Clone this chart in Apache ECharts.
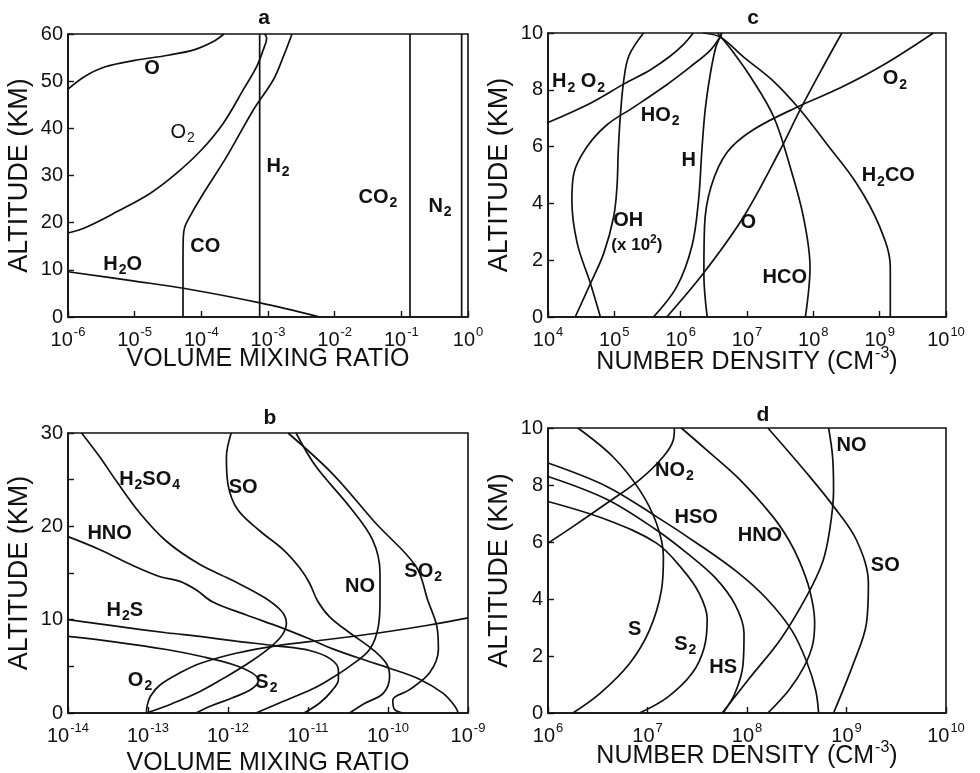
<!DOCTYPE html>
<html>
<head>
<meta charset="utf-8">
<title>Venus lower atmosphere: mixing ratios and number densities</title>
<script src="https://cdn.jsdelivr.net/npm/echarts@6/dist/echarts.min.js"></script>
<style>
  html, body { margin: 0; padding: 0; background: #fff; }
  #chart { width: 980px; height: 773px; }
</style>
</head>
<body>
<div id="chart"></div>
<script>
// Each profile is a list of [log10(value), altitude km] pairs.
// Values are converted back to linear units and plotted on log axes.

// ---------- panel a: volume mixing ratio, 0-60 km ----------
const aDecades = [-6, 0];
const aAltRange = [0, 60];
const a_O   = [[-6, 48.3], [-5.75, 51.0], [-5.45, 53.0], [-5.0, 54.4], [-4.5, 55.5], [-4.1, 56.7], [-3.82, 58.4], [-3.66, 60]];
const a_O2  = [[-6, 17.8], [-5.72, 19.1], [-5.27, 22.3], [-4.77, 26.2], [-4.37, 30.5], [-4.0, 35.4], [-3.67, 41.1], [-3.37, 48.2], [-3.17, 53.1], [-3.07, 56.7], [-3.02, 59.1], [-3.05, 60]];
const a_CO  = [[-4.275, 0], [-4.275, 12], [-4.27, 17], [-4.25, 19], [-4.2, 20.6], [-4.0, 25.5], [-3.62, 34], [-3.22, 43.9], [-2.92, 50.3], [-2.77, 55.2], [-2.64, 60]];
const a_H2O = [[-6, 9.6], [-5, 7.6], [-4.27, 6.1], [-3.12, 3.0], [-2.22, 0]];
const a_H2  = [[-3.125, 0], [-3.125, 60]];
const a_CO2 = [[-0.87, 0], [-0.87, 60]];
const a_N2  = [[-0.095, 0], [-0.095, 60]];
const aLabels = [
  ['O', -4.74, 52.4], ['O_2', -4.28, 39.0, 'thin'], ['H_2', -2.85, 31.8], ['CO_2', -1.35, 25.2],
  ['N_2', -0.42, 23.3], ['CO', -3.94, 14.8], ['H_2O', -5.18, 11.0]
];

// ---------- panel b: volume mixing ratio, 0-30 km ----------
const bDecades = [-14, -9];
const bAltRange = [0, 30];
const b_H2SO4 = [[-13.83, 30], [-13.6, 27.4], [-13.4, 24.9], [-13.1, 21.4], [-12.77, 18.4], [-12.35, 15.9], [-11.94, 14.2], [-11.55, 12.4], [-11.33, 10.9], [-11.27, 9.6], [-11.32, 8.4], [-11.45, 7.2], [-11.7, 5.6], [-12.0, 4.0], [-12.35, 2.3], [-12.7, 1.0], [-13.02, 0]];
const b_HNO   = [[-14, 18.9], [-13.6, 17.5], [-13.19, 15.8], [-12.85, 14.6], [-12.6, 14.1], [-12.4, 13.2], [-12.19, 11.9], [-11.77, 10.5], [-11.35, 9.2], [-11.0, 8.0], [-10.7, 6.9], [-10.3, 5.7], [-9.98, 4.8], [-9.6, 3.6], [-9.31, 2.1], [-9.17, 0.8], [-9.12, 0]];
const b_H2S   = [[-14, 10.0], [-13.4, 9.3], [-12.77, 8.6], [-12.35, 8.2], [-11.9, 7.7], [-11.4, 7.2], [-10.98, 6.7], [-10.72, 5.8], [-10.62, 4.6], [-10.62, 3.6], [-10.7, 2.4], [-10.85, 1.1], [-11.05, 0]];
const b_O2    = [[-13.02, 0], [-13.01, 0.8], [-12.97, 1.8], [-12.85, 3.0], [-12.6, 4.3], [-12.35, 5.3], [-11.9, 6.4], [-11.4, 7.2], [-10.73, 7.9], [-10.1, 8.6], [-9.5, 9.4], [-9.0, 10.2]];
const b_S2    = [[-14, 8.2], [-13.4, 7.6], [-12.77, 6.8], [-12.3, 6.0], [-11.94, 5.2], [-11.7, 4.3], [-11.62, 3.5], [-11.7, 2.6], [-11.95, 1.6], [-12.2, 0.8], [-12.4, 0]];
const b_SO    = [[-11.96, 30], [-12.02, 27.4], [-12.0, 24.5], [-11.88, 21.8], [-11.6, 19.5], [-11.31, 17.5], [-11.1, 15.5], [-10.98, 13.9], [-10.88, 12.0], [-10.73, 10.3], [-10.48, 8.6], [-10.19, 6.8], [-10.02, 5.3], [-9.98, 3.9], [-10.06, 2.1], [-10.3, 1.0], [-10.48, 0]];
const b_NO    = [[-11.15, 30], [-10.9, 26.4], [-10.48, 22.1], [-10.19, 18.5], [-10.1, 15.0], [-10.1, 12.1], [-10.12, 9.3], [-10.23, 6.8], [-10.48, 5.0], [-10.73, 3.6], [-10.94, 2.6], [-11.35, 1.1], [-11.65, 0]];
const b_SO2   = [[-11.25, 30], [-10.69, 25.6], [-10.15, 20.3], [-9.65, 15.7], [-9.5, 12.0], [-9.39, 9.3], [-9.37, 6.8], [-9.48, 4.3], [-9.73, 2.5], [-9.94, 1.4], [-9.92, 0.4], [-9.81, 0]];
const bLabels = [
  ['H_2SO_4', -12.98, 24.9], ['SO', -11.81, 24.1], ['HNO', -13.48, 19.1], ['NO', -10.35, 13.4],
  ['SO_2', -9.56, 15.1], ['H_2S', -13.29, 10.9], ['O_2', -13.1, 3.4], ['S_2', -11.52, 3.2]
];

// ---------- panel c: number density, 0-10 km ----------
const cDecades = [4, 10];
const cAltRange = [0, 10];
const c_H2O2 = [[4, 6.85], [4.64, 7.53], [5.14, 8.2], [5.54, 8.7], [5.84, 9.18], [6.04, 9.59], [6.19, 10]];
const c_HO2  = [[4.79, 0], [4.64, 1.18], [4.44, 2.6], [4.36, 4.1], [4.39, 5.06], [4.59, 6.0], [4.89, 6.77], [5.3, 7.4], [5.79, 8.18], [6.14, 8.8], [6.45, 9.4], [6.6, 9.88], [6.62, 10]];
const c_OH   = [[4.41, 0], [4.64, 1.18], [4.84, 2.24], [4.99, 3.53], [5.04, 4.59], [5.06, 5.88], [5.09, 7.06], [5.14, 8.3], [5.22, 9.2], [5.44, 10]];
const c_H    = [[5.59, 0], [5.94, 1.06], [6.17, 2.5], [6.27, 4.12], [6.32, 5.88], [6.37, 7.3], [6.45, 8.6], [6.53, 9.5], [6.6, 9.9], [6.62, 10]];
const c_O2   = [[6.4, 0], [6.35, 1.5], [6.36, 3.2], [6.46, 4.6], [6.7, 5.8], [7.1, 6.6], [7.8, 7.44], [8.4, 8.06], [9.06, 8.88], [9.81, 10]];
const c_O    = [[5.79, 0], [6.34, 1.53], [6.95, 3.53], [7.5, 5.88], [7.8, 7.29], [8.15, 8.82], [8.43, 10]];
const c_HCO  = [[7.88, 0], [7.95, 1.76], [7.85, 3.53], [7.65, 5.29], [7.4, 7.06], [7.05, 8.47], [6.8, 9.3], [6.6, 9.88], [6.55, 10]];
const c_H2CO = [[9.16, 0], [9.16, 1.76], [9.0, 3.18], [8.65, 4.71], [8.2, 6.1], [7.8, 7.3], [7.4, 8.3], [6.95, 9.15], [6.6, 9.85], [6.34, 10]];
const cLabels = [
  ['H_2 O_2', 4.46, 8.24], ['HO_2', 5.69, 7.06], ['H', 6.12, 5.47], ['OH', 5.21, 3.35],
  ['(x 10^2)', 5.34, 2.59, 'small'], ['O', 7.02, 3.3], ['HCO', 7.57, 1.35], ['H_2CO', 9.13, 4.94], ['O_2', 9.23, 8.35]
];

// ---------- panel d: number density, 0-10 km ----------
const dDecades = [6, 10];
const dAltRange = [0, 10];
const d_S   = [[6.3, 10], [6.65, 9.0], [6.92, 7.83], [7.09, 6.66], [7.16, 5.49], [7.14, 4.31], [7.02, 2.91], [6.82, 1.74], [6.52, 0.68], [6.25, 0]];
const d_NO2 = [[6, 5.96], [6.25, 6.54], [6.59, 7.36], [6.92, 8.18], [7.16, 9.0], [7.26, 9.59], [7.27, 10]];
const d_HSO = [[6, 8.77], [6.59, 7.95], [7.09, 6.89], [7.5, 5.95], [7.9, 4.95], [8.2, 4.0], [8.45, 2.9], [8.6, 1.8], [8.69, 0.8], [8.72, 0]];
const d_HS  = [[6, 8.3], [6.59, 7.5], [7.09, 6.42], [7.4, 5.6], [7.68, 4.75], [7.88, 3.8], [7.97, 2.8], [7.96, 1.7], [7.88, 0.7], [7.76, 0]];
const d_S2  = [[6, 7.42], [6.59, 6.78], [7.09, 5.96], [7.35, 5.05], [7.52, 4.2], [7.6, 3.3], [7.57, 2.3], [7.45, 1.4], [7.2, 0.55], [6.92, 0]];
const d_HNO = [[7.34, 10], [7.59, 9.24], [7.93, 8.18], [8.26, 6.89], [8.42, 6.07], [8.53, 5.3], [8.63, 4.31], [8.68, 3.2], [8.66, 2.4], [8.57, 1.6], [8.42, 0.8], [8.21, 0]];
const d_SO  = [[8.21, 10], [8.6, 8.42], [8.87, 7.25], [9.1, 6.07], [9.22, 4.55], [9.2, 3.14], [9.07, 1.74], [8.87, 0]];
const d_NO  = [[7.75, 0], [8.02, 1.2], [8.34, 2.6], [8.6, 4.1], [8.76, 5.3], [8.83, 6.4], [8.87, 7.8], [8.86, 9.0], [8.82, 10]];
const dLabels = [
  ['NO_2', 7.27, 8.47], ['HSO', 7.49, 6.84], ['HNO', 8.13, 6.19], ['NO', 9.05, 9.35],
  ['SO', 9.39, 5.13], ['S', 6.87, 2.91], ['S_2', 7.38, 2.38], ['HS', 7.76, 1.56]
];

// ---------- layout and styling ----------
const FONT = '"Liberation Sans", Arial, Helvetica, sans-serif';
const INK = '#111';

const panels = [
  { key: 'a', grid: { left: 68, top: 34, width: 400, height: 283 }, decades: aDecades, alt: aAltRange,
    yStep: 10, yLabelStep: 10, xName: 'VOLUME MIXING RATIO', xNameGap: 26, title: [264, 18],
    curves: [a_O, a_O2, a_CO, a_H2O, a_H2, a_CO2, a_N2], labels: aLabels },
  { key: 'b', grid: { left: 68, top: 433, width: 400, height: 280 }, decades: bDecades, alt: bAltRange,
    yStep: 5, yLabelStep: 10, xName: 'VOLUME MIXING RATIO', xNameGap: 34, title: [270, 418],
    curves: [b_H2SO4, b_HNO, b_H2S, b_O2, b_S2, b_SO, b_NO, b_SO2], labels: bLabels },
  { key: 'c', grid: { left: 548, top: 33, width: 398, height: 284 }, decades: cDecades, alt: cAltRange,
    yStep: 2, yLabelStep: 2, xName: 'NUMBER DENSITY (CM^-3)', xNameGap: 29, title: [753, 18],
    curves: [c_H2O2, c_HO2, c_OH, c_H, c_O2, c_O, c_HCO, c_H2CO], labels: cLabels },
  { key: 'd', grid: { left: 548, top: 428, width: 398, height: 285 }, decades: dDecades, alt: dAltRange,
    yStep: 2, yLabelStep: 2, xName: 'NUMBER DENSITY (CM^-3)', xNameGap: 27, title: [763, 415],
    curves: [d_S, d_NO2, d_HSO, d_HS, d_S2, d_HNO, d_SO, d_NO], labels: dLabels }
];

// 'H_2O' -> rich text tokens with subscripts; '10^-3' -> superscripts
function toRich(str, n, s, p) {
  return str.replace(/([_^])(-?\d+)|([^_^]+)/g, (m, mark, num, plain) =>
    plain != null ? `{${n}|${plain}}` : `{${mark === '_' ? s : p}|${num}}`);
}

const labelRich = {
  n:  { fontFamily: FONT, fontSize: 20, fontWeight: 'bold', lineHeight: 22, verticalAlign: 'top', color: INK },
  s:  { fontFamily: FONT, fontSize: 14, fontWeight: 'bold', lineHeight: 14, padding: [9, 0, 0, 1], verticalAlign: 'top', color: INK },
  tn: { fontFamily: FONT, fontSize: 20, fontWeight: 'normal', lineHeight: 22, verticalAlign: 'top', color: INK },
  ts: { fontFamily: FONT, fontSize: 14, fontWeight: 'normal', lineHeight: 14, padding: [9, 0, 0, 1], verticalAlign: 'top', color: INK },
  m:  { fontFamily: FONT, fontSize: 17, fontWeight: 'bold', lineHeight: 19, padding: [3, 0, 0, 0], verticalAlign: 'top', color: INK },
  mp: { fontFamily: FONT, fontSize: 12, fontWeight: 'bold', lineHeight: 12, verticalAlign: 'top', color: INK }
};

const tickRich = {
  t: { fontFamily: FONT, fontSize: 20, lineHeight: 22, padding: [4, 0, 0, 0], verticalAlign: 'top', color: INK },
  p: { fontFamily: FONT, fontSize: 13, lineHeight: 13, padding: [0, 0, 0, 1], verticalAlign: 'top', color: INK }
};

const nameRich = {
  t: { fontFamily: FONT, fontSize: 25, lineHeight: 28, padding: [4, 0, 0, 0], verticalAlign: 'top', color: INK },
  p: { fontFamily: FONT, fontSize: 16, lineHeight: 16, padding: [0, 0, 0, 1], verticalAlign: 'top', color: INK }
};

const grids = [], xAxes = [], yAxes = [], series = [], graphics = [];

panels.forEach((pn, i) => {
  grids.push(Object.assign({ show: true, borderColor: INK, borderWidth: 1.6, backgroundColor: 'transparent',
    containLabel: false, outerBoundsMode: 'none' }, pn.grid));

  xAxes.push({
    type: 'log', logBase: 10, gridIndex: i,
    min: Math.pow(10, pn.decades[0]), max: Math.pow(10, pn.decades[1]),
    axisLine: { show: true, lineStyle: { color: INK, width: 1.6 } },
    axisTick: { show: true, inside: true, length: 6, lineStyle: { color: INK, width: 1.4 } },
    minorTick: { show: false },
    splitLine: { show: false },
    axisLabel: {
      margin: 9, showMinLabel: true, showMaxLabel: true,
      formatter: v => toRich('10^' + Math.round(Math.log10(v)), 't', 't', 'p'),
      rich: tickRich
    },
    name: toRich(pn.xName, 't', 't', 'p'),
    nameLocation: 'middle', nameGap: pn.xNameGap, nameMoveOverlap: false,
    nameTextStyle: { rich: nameRich, verticalAlign: 'top' }
  });

  yAxes.push({
    type: 'value', gridIndex: i, min: pn.alt[0], max: pn.alt[1], interval: pn.yStep,
    axisLine: { show: true, lineStyle: { color: INK, width: 1.6 } },
    axisTick: { show: true, inside: true, length: 6, lineStyle: { color: INK, width: 1.4 } },
    splitLine: { show: false },
    axisLabel: {
      margin: 5, fontFamily: FONT, fontSize: 20, color: INK,
      formatter: v => (v % pn.yLabelStep === 0 ? String(v) : '')
    },
    name: 'ALTITUDE (KM)', nameLocation: 'middle', nameGap: 35, nameRotate: 90, nameMoveOverlap: false,
    nameTextStyle: { fontFamily: FONT, fontSize: 27, color: INK }
  });

  pn.curves.forEach(pts => {
    series.push({
      type: 'line', xAxisIndex: i, yAxisIndex: i, silent: true, animation: false,
      symbol: 'none', smooth: 0.35, clip: true,
      lineStyle: { color: INK, width: 1.7 },
      data: pts.map(p => [Math.pow(10, p[0]), p[1]])
    });
  });

  // species names, anchored in data coordinates
  series.push({
    type: 'scatter', xAxisIndex: i, yAxisIndex: i, silent: true, animation: false,
    symbolSize: 1, itemStyle: { color: 'rgba(0,0,0,0)' },
    data: pn.labels.map(([txt, e, alt, kind]) => ({
      value: [Math.pow(10, e), alt],
      name: kind === 'thin' ? toRich(txt, 'tn', 'ts', 'ts')
          : kind === 'small' ? toRich(txt, 'm', 'm', 'mp')
          : toRich(txt, 'n', 's', 's')
    })),
    label: { show: true, position: 'inside', formatter: p => p.name, rich: labelRich,
      color: INK, opacity: 1, textBorderWidth: 0 }
  });

  graphics.push({
    type: 'text', x: pn.title[0], y: pn.title[1], silent: true,
    style: { text: pn.key, font: `bold 21px ${FONT}`, fill: INK,
      align: 'center', verticalAlign: 'middle', textAlign: 'center', textVerticalAlign: 'middle' }
  });
});

const chart = echarts.init(document.getElementById('chart'), null, { renderer: 'canvas' });
chart.setOption({
  backgroundColor: '#fff',
  animation: false,
  grid: grids,
  xAxis: xAxes,
  yAxis: yAxes,
  series: series,
  graphic: graphics
});
</script>
</body>
</html>
